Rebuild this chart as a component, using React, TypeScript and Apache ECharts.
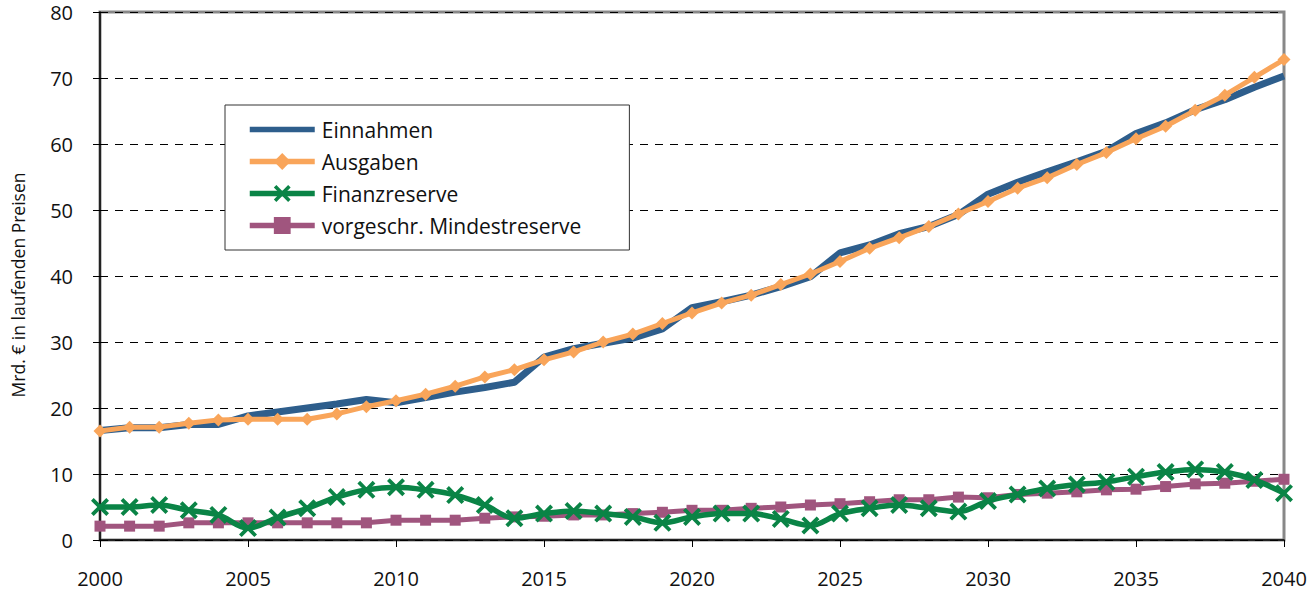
import React, { useEffect, useRef } from "react";
import * as echarts from "echarts";

const years = [
  2000, 2001, 2002, 2003, 2004, 2005, 2006, 2007, 2008, 2009, 2010, 2011, 2012, 2013,
  2014, 2015, 2016, 2017, 2018, 2019, 2020, 2021, 2022, 2023, 2024, 2025, 2026, 2027,
  2028, 2029, 2030, 2031, 2032, 2033, 2034, 2035, 2036, 2037, 2038, 2039, 2040,
];

const einnahmen = [
  16.6, 17.0, 17.0, 17.5, 17.5, 18.8, 19.4, 20.0, 20.6, 21.3, 20.8, 21.6, 22.4, 23.1,
  23.9, 27.7, 29.0, 29.8, 30.6, 32.0, 35.2, 36.1, 37.1, 38.4, 39.9, 43.5, 44.7, 46.4,
  47.5, 49.3, 52.4, 54.2, 55.8, 57.3, 58.9, 61.6, 63.2, 65.2, 66.7, 68.6, 70.3,
];

const ausgaben = [
  16.5, 17.1, 17.1, 17.7, 18.2, 18.3, 18.3, 18.3, 19.1, 20.2, 21.1, 22.1, 23.3, 24.7,
  25.8, 27.3, 28.5, 30.0, 31.2, 32.8, 34.4, 35.9, 37.1, 38.7, 40.3, 42.2, 44.2, 45.8,
  47.5, 49.4, 51.3, 53.3, 54.9, 56.9, 58.7, 60.8, 62.7, 65.1, 67.4, 70.1, 72.8,
];

const finanzreserve = [
  5.0, 5.0, 5.3, 4.5, 3.8, 1.8, 3.4, 4.8, 6.5, 7.6, 8.0, 7.6, 6.8, 5.3,
  3.3, 4.0, 4.4, 4.0, 3.5, 2.6, 3.5, 4.0, 4.0, 3.2, 2.2, 4.0, 4.8, 5.3,
  4.8, 4.3, 5.9, 6.9, 7.8, 8.4, 8.8, 9.6, 10.3, 10.7, 10.3, 9.1, 7.1,
];

const mindestreserve = [
  2.1, 2.1, 2.1, 2.6, 2.6, 2.6, 2.6, 2.6, 2.6, 2.6, 3.0, 3.0, 3.0, 3.3,
  3.5, 3.6, 3.8, 3.8, 4.0, 4.2, 4.5, 4.5, 4.8, 5.0, 5.3, 5.5, 5.8, 6.1,
  6.1, 6.5, 6.4, 6.9, 7.1, 7.3, 7.6, 7.7, 8.1, 8.5, 8.6, 8.9, 9.2,
];

const seriesNames = ["Einnahmen", "Ausgaben", "Finanzreserve", "vorgeschr. Mindestreserve"];
const yAxisTitle = "Mrd. € in laufenden Preisen";

const pair = (vals: number[]) => years.map((y, i) => [y, vals[i]]);

const crossPath =
  "path://M0,1.5 L1.5,0 L5,3.5 L8.5,0 L10,1.5 L6.5,5 L10,8.5 L8.5,10 L5,6.5 L1.5,10 L0,8.5 L3.5,5 Z";

export default function App() {
  const ref = useRef<HTMLDivElement>(null);
  useEffect(() => {
    if (!ref.current) return;
    const chart = echarts.init(ref.current, null, { renderer: "svg" });
    const font = "'Open Sans', 'DejaVu Sans', sans-serif";
    chart.setOption({
      animation: false,
      backgroundColor: "#ffffff",
      textStyle: { fontFamily: font },
      grid: {
        left: 100,
        right: 24,
        top: 12,
        bottom: 51,
        outerBoundsMode: "none",
        containLabel: false,
        show: true,
        borderColor: "#888888",
        borderWidth: 3,
        backgroundColor: "transparent",
      },
      graphic: [
        {
          type: "text",
          x: 18,
          y: 285,
          rotation: Math.PI / 2,
          style: {
            text: yAxisTitle,
            fontSize: 17.5,
            fontFamily: font,
            fill: "#111111",
            textAlign: "center",
            textVerticalAlign: "middle",
          },
        },
      ],
      legend: {
        data: [
          { name: seriesNames[0], itemStyle: { opacity: 0 } },
          { name: seriesNames[1] },
          { name: seriesNames[2] },
          { name: seriesNames[3] },
        ],
        orient: "vertical",
        left: 225,
        top: 105,
        itemWidth: 65,
        itemHeight: 21,
        itemGap: 11,
        padding: [14, 48, 14, 22],
        borderColor: "#333333",
        borderWidth: 1,
        backgroundColor: "#ffffff",
        lineStyle: { width: 5.5 },
        textStyle: { fontSize: 21, color: "#111111", fontFamily: font, padding: [0, 0, 0, 2] },
      },
      xAxis: {
        type: "value",
        min: 2000,
        max: 2040,
        interval: 5,
        axisLine: { show: true, lineStyle: { color: "#000000", width: 1.5 } },
        axisTick: { show: true, length: 7, inside: false, lineStyle: { color: "#000000" } },
        axisLabel: {
          margin: 28,
          fontSize: 20,
          color: "#111111",
          formatter: (v: number) => String(v),
        },
        splitLine: { show: false },
      },
      yAxis: {
        type: "value",
        min: 0,
        max: 80,
        interval: 10,
        axisLine: { show: true, lineStyle: { color: "#000000", width: 1.5 } },
        axisTick: { show: true, length: 7, lineStyle: { color: "#000000" } },
        axisLabel: { margin: 27, fontSize: 20, color: "#111111" },
        splitLine: {
          show: true,
          lineStyle: { color: "#000000", width: 1, type: [8, 7] },
        },
      },
      series: [
        {
          name: "Einnahmen",
          type: "line",
          data: pair(einnahmen),
          showSymbol: false,
          symbol: "none",
          lineStyle: { color: "#2E5E8C", width: 7 },
          itemStyle: { color: "#2E5E8C" },
          z: 2,
        },
        {
          name: "Ausgaben",
          type: "line",
          data: pair(ausgaben),
          symbol: "diamond",
          symbolSize: 13,
          lineStyle: { color: "#F9A55A", width: 5 },
          itemStyle: { color: "#F9A55A" },
          z: 3,
        },
        {
          name: "vorgeschr. Mindestreserve",
          type: "line",
          data: pair(mindestreserve),
          symbol: "rect",
          symbolSize: 11,
          lineStyle: { color: "#A0557E", width: 5 },
          itemStyle: { color: "#A0557E" },
          z: 4,
        },
        {
          name: "Finanzreserve",
          type: "line",
          data: pair(finanzreserve),
          smooth: 0.35,
          symbol: crossPath,
          symbolSize: 18,
          lineStyle: { color: "#0A8446", width: 5.5 },
          itemStyle: { color: "#0A8446" },
          z: 5,
        },
      ],
    });
    return () => chart.dispose();
  }, []);
  return (
    <div
      ref={ref}
      style={{ position: "absolute", left: 0, top: 0, width: 1308, height: 591 }}
    />
  );
}
